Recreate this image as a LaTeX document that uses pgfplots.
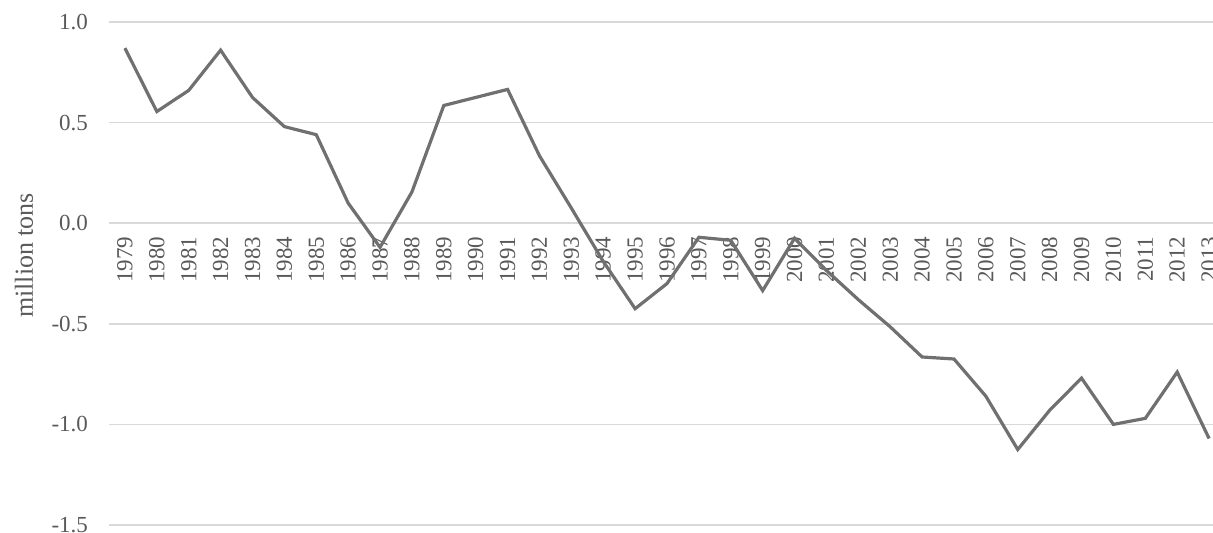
\documentclass[border=0pt]{standalone}
\usepackage{pgfplots}
\pgfplotsset{compat=1.18}
\usepackage{fontspec}
\setmainfont{Liberation Serif}
\definecolor{linegray}{RGB}{112,112,112}
\definecolor{textgray}{RGB}{89,89,89}
\definecolor{gridgray}{RGB}{217,217,217}
\begin{document}
\begin{tikzpicture}
\begin{axis}[
  scale only axis,
  width=558pt, height=251.5pt,
  xmin=-0.5, xmax=34.5,
  ymin=-1.5, ymax=1.0,
  axis line style={draw=none},
  major tick length=0pt,
  ymajorgrids,
  grid style={gridgray, line width=0.8pt},
  ytick={-1.5,-1,-0.5,0,0.5,1},
  yticklabels={-1.5,-1.0,-0.5,0.0,0.5,1.0},
  yticklabel style={font=\fontsize{11.5}{13}\selectfont, text=textgray, anchor=east, xshift=-7pt},
  xtick={0,...,34},
  xticklabels={1979,1980,1981,1982,1983,1984,1985,1986,1987,1988,1989,1990,1991,1992,1993,1994,1995,1996,1997,1998,1999,2000,2001,2002,2003,2004,2005,2006,2007,2008,2009,2010,2011,2012,2013},
  xticklabel style={font=\fontsize{11.5}{13}\selectfont, text=textgray, yshift=147.7pt, rotate=90, anchor=east},
  ylabel={million tons},
  every axis y label/.style={at={(rel axis cs:0,0.536)}, xshift=-42.5pt, anchor=center, rotate=90, font=\fontsize{13}{15}\selectfont, text=textgray},
  clip=false,
]
\coordinate (O) at (rel axis cs:0,0);
\addplot[linegray, line width=1.6pt, line join=miter, mark=none] coordinates {
(0,0.87) (1,0.555) (2,0.66) (3,0.86) (4,0.625) (5,0.48) (6,0.44) (7,0.10)
(8,-0.12) (9,0.155) (10,0.585) (11,0.625) (12,0.665) (13,0.335) (14,0.075)
(15,-0.19) (16,-0.425) (17,-0.30) (18,-0.07) (19,-0.085) (20,-0.335) (21,-0.075)
(22,-0.235) (23,-0.38) (24,-0.515) (25,-0.665) (26,-0.675) (27,-0.86) (28,-1.125)
(29,-0.93) (30,-0.77) (31,-1.0) (32,-0.97) (33,-0.74) (34,-1.07)
};
\end{axis}
\pgfresetboundingbox
\useasboundingbox ([shift={(-54.5pt,-4pt)}]O) rectangle ([shift={(552pt,262.5pt)}]O);
\end{tikzpicture}
\end{document}
